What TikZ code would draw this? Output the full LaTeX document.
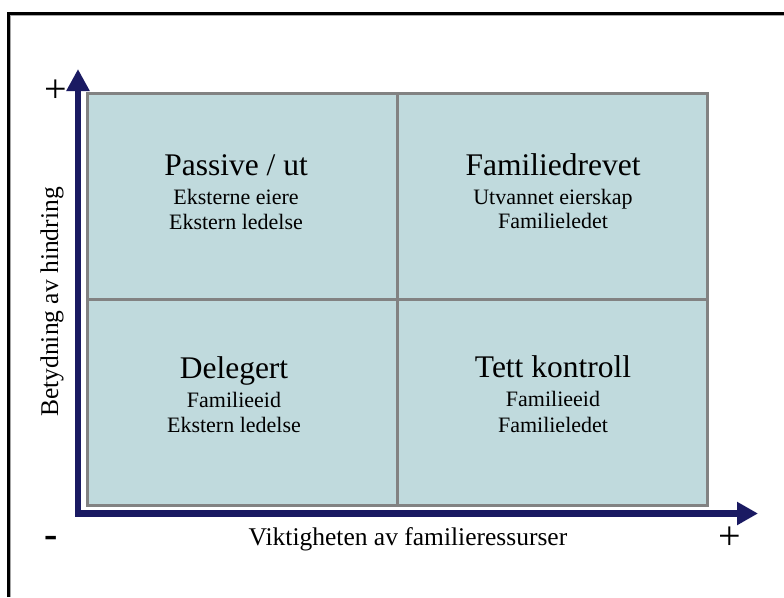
\documentclass[tikz,border=0pt]{standalone}
\usepackage{fontspec}
\setmainfont{Liberation Serif}
\usetikzlibrary{arrows.meta}
\definecolor{quadfill}{HTML}{C0DADD}
\definecolor{quadline}{HTML}{828282}
\definecolor{navyaxis}{HTML}{1A1A62}
\tikzset{
  quad/.style={draw=quadline, line width=3, fill=quadfill, minimum width=310, minimum height=206, inner sep=0, outer sep=0},
  qtitle/.style={anchor=base, inner sep=0, font=\rmfamily\fontsize{31.5}{34}\selectfont},
  qline/.style={anchor=base, inner sep=0, font=\rmfamily\fontsize{22}{25}\selectfont},
  axislabel/.style={anchor=base, inner sep=0, font=\rmfamily\fontsize{25.5}{28}\selectfont},
  signlabel/.style={inner sep=0, font=\rmfamily\fontsize{40}{42}\selectfont},
}
\begin{document}
\begin{tikzpicture}[x=1pt,y=-1pt]
\useasboundingbox (0,0) rectangle (784,597);
% outer frame (only top and left visible)
\draw[black, line width=2.5] (8.3,597) -- (8.3,13.3) -- (784,13.3);
\draw[gray!70, line width=1.5] (10.5,597) -- (10.5,15.5) -- (784,15.5);
% quadrants
\node[quad] (q11) at (242,196) {};
\node[quad] (q12) at (552,196) {};
\node[quad] (q21) at (242,402) {};
\node[quad] (q22) at (552,402) {};
% texts
\node[qtitle] (t11) at (236,175) {Passive / ut};
\node[qline] (a11) at (236,204) {Eksterne eiere};
\node[qline] (b11) at (236,229) {Ekstern ledelse};
\node[qtitle] (t12) at (553,175) {Familiedrevet};
\node[qline] (a12) at (553,204) {Utvannet eierskap};
\node[qline] (b12) at (553,228) {Familieledet};
\node[qtitle] (t21) at (234,378) {Delegert};
\node[qline] (a21) at (234,407) {Familieeid};
\node[qline] (b21) at (234,432) {Ekstern ledelse};
\node[qtitle] (t22) at (553,377) {Tett kontroll};
\node[qline] (a22) at (553,406) {Familieeid};
\node[qline] (b22) at (553,432) {Familieledet};
% axes
\coordinate (ytip) at (78,69);
\coordinate (corner) at (78,513.5);
\coordinate (xtip) at (758,513.5);
\draw[navyaxis, line width=6.5, line join=miter,
  {Triangle[length=22pt,width=22pt]}-{Triangle[length=21pt,width=22pt]}]
  (ytip) -- (corner) -- (xtip);
% axis labels
\node[axislabel] (xlab) at (408,545) {Viktigheten av familieressurser};
\node[axislabel, rotate=90] (ylab) at (58,302) {Betydning av hindring};
\node[signlabel] (yplus) at (56,91) {+};
\node[signlabel] (xplus) at (729.5,538) {+};
\node[signlabel, font=\rmfamily\fontsize{40}{42}\selectfont\bfseries] (minus) at (51,542) {-};
\end{tikzpicture}
\end{document}
